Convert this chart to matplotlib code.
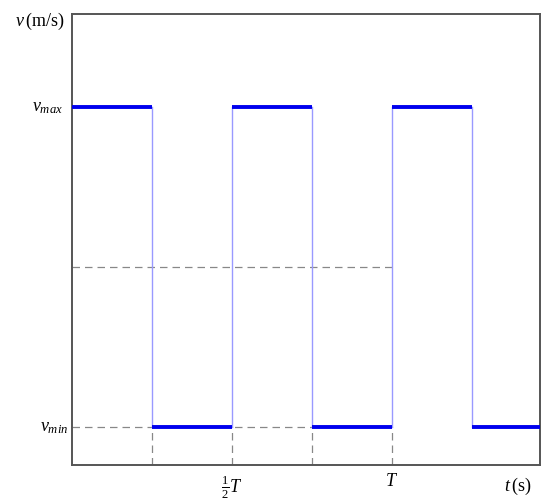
import matplotlib
matplotlib.use("Agg")
import matplotlib.pyplot as plt
from matplotlib.transforms import blended_transform_factory

plt.rcParams['mathtext.fontset'] = 'custom'
plt.rcParams['mathtext.rm'] = 'Liberation Serif'
plt.rcParams['mathtext.it'] = 'Liberation Serif:italic'
plt.rcParams['font.family'] = ['Liberation Serif', 'DejaVu Serif']

# data
t_edges = [0, 1, 2, 3, 4, 5, 5.85]
v_min, v_mid, v_max = 1, 3, 5
levels = [v_max, v_min, v_max, v_min, v_max, v_min]
xtick_pos = [2, 4]
xtick_labels = [r'$\frac{1}{2}T$', r'$T$']
ytick_pos = [v_min, v_max]
ytick_labels = [r'$v_{min}$', r'$v_{max}$']

fig = plt.figure(figsize=(5.5, 5.02), dpi=100)
ax = fig.add_axes([72/550, 36/502, 468/550, 451/502])
ax.set_xlim(0, 5.85)
ax.set_ylim(0.525, 6.1625)

dash = dict(color='#888888', lw=0.9, dashes=(6, 4))
# dashed guides
ax.plot([0, 3], [v_min, v_min], **dash, zorder=1)
ax.plot([0, 4], [v_mid, v_mid], **dash, zorder=1)
for t in [1, 2, 3, 4]:
    ax.plot([t, t], [0.525, v_min], **dash, zorder=1)

# vertical transitions
for t in t_edges[1:-1]:
    ax.plot([t, t], [v_min, v_max], color='#9999ff', lw=1.0, zorder=2)

# horizontal segments
for i, lv in enumerate(levels):
    ax.plot([t_edges[i], t_edges[i+1]], [lv, lv], color='#0000ee', lw=2.8,
            solid_capstyle='butt', zorder=3)

ax.set_xticks(xtick_pos)
ax.set_xticklabels(xtick_labels, fontsize=13)
ax.tick_params(axis='x', length=0, pad=5)
ax.set_yticks([])

tr = blended_transform_factory(ax.transAxes, ax.transData)
offsets = [-4/468, -9/468]
for pos, lab, off in zip(ytick_pos, ytick_labels, offsets):
    ax.text(off, pos, lab, transform=tr, ha='right', va='center', fontsize=13)

for s in ax.spines.values():
    s.set_color('#555555')
    s.set_linewidth(1.4)

fig.text(15/550, 1 - 21/502, r'$v\,$(m/s)', fontsize=13, va='center', ha='left')
fig.text(531/550, 1 - 486/502, r'$t\,$(s)', fontsize=13, va='center', ha='right')

fig.savefig('out.png', dpi=100)
